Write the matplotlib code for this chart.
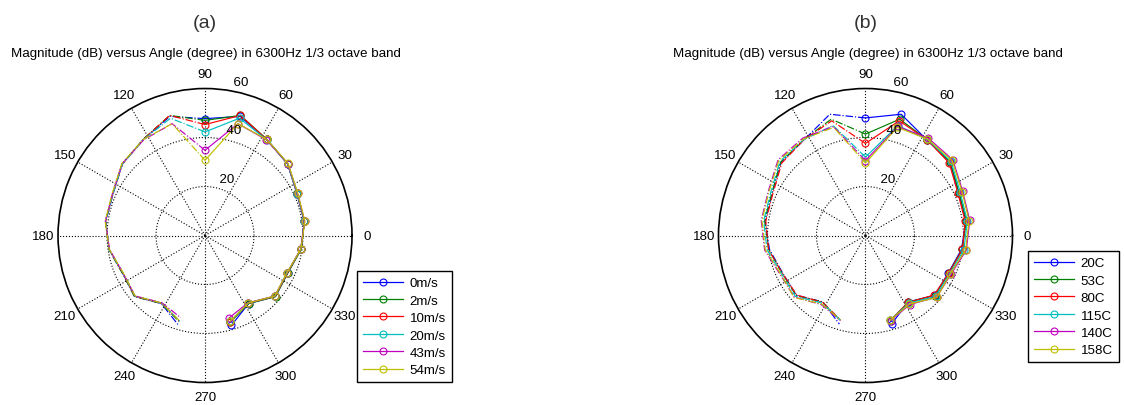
import numpy as np
import matplotlib
matplotlib.use('Agg')
import matplotlib.pyplot as plt
from matplotlib.lines import Line2D

plt.rcParams['font.family'] = ['Liberation Sans', 'DejaVu Sans']

# measurement angles (deg), right half; left half is drawn mirrored
angles = [90, 73.6, 57.3, 40.9, 24.5, 8.2, -8.2, -24.5, -40.9, -57.3, -73.6]

# (a) flow speed
speed_labels = ['0m/s', '2m/s', '10m/s', '20m/s', '43m/s', '54m/s']
mag_0ms = [47.7, 50.7, 46.6, 44.6, 41.2, 40.9, 39.6, 37.0, 38.0, 33.0, 38.2]
mag_2ms = [47.0, 51.1, 46.7, 44.7, 41.4, 41.0, 39.7, 37.1, 38.1, 33.0, 36.8]
mag_10ms = [45.3, 51.1, 46.6, 44.6, 41.3, 41.0, 39.5, 36.9, 37.9, 32.8, 36.6]
mag_20ms = [42.3, 49.9, 46.5, 44.6, 41.3, 41.0, 39.5, 36.8, 37.8, 32.7, 36.5]
mag_43ms = [34.8, 47.6, 46.4, 44.8, 41.5, 41.1, 39.4, 36.8, 37.7, 32.6, 35.0]
mag_54ms = [30.7, 47.6, 46.6, 44.9, 41.6, 41.2, 39.5, 36.7, 37.7, 32.7, 36.4]

# (b) temperature
temp_labels = ['20C', '53C', '80C', '115C', '140C', '158C']
mag_20c = [48.0, 51.6, 46.4, 45.6, 41.8, 41.4, 39.6, 37.1, 37.3, 32.2, 37.7]
mag_53c = [41.4, 49.5, 46.5, 45.8, 42.0, 41.6, 39.9, 37.3, 37.4, 32.3, 36.2]
mag_80c = [37.6, 48.8, 46.5, 45.2, 41.5, 41.1, 40.0, 37.3, 37.1, 32.4, 36.0]
mag_115c = [32.0, 46.8, 46.6, 46.2, 42.5, 42.0, 40.6, 37.7, 37.9, 32.8, 36.0]
mag_140c = [30.6, 46.4, 47.3, 47.2, 43.6, 43.0, 41.6, 38.3, 38.4, 33.5, 36.2]
mag_158c = [29.6, 46.0, 46.8, 46.8, 43.3, 42.7, 41.3, 38.0, 38.6, 33.2, 36.0]

colors = ['#0000ff', '#008000', '#ff0000', '#00bfbf', '#bf00bf', '#bfbf00']
title = 'Magnitude (dB) versus Angle (degree) in 6300Hz 1/3 octave band'


def polar_panel(ax, series, labels, legend_pos):
    rmax = 60
    th = np.deg2rad(angles)
    th_mirror = np.deg2rad([180 - a for a in angles])
    for vals, c, lab in zip(series, colors, labels):
        ax.plot(th_mirror, vals, '-.', color=c, lw=0.85)
        ax.plot(th, vals, '-o', color=c, lw=0.85, ms=5, mfc='none', mew=0.8, label=lab)

    ax.set_ylim(0, rmax)
    ax.set_xticks(np.deg2rad(np.arange(0, 360, 30)))
    ax.set_yticks([20, 40])
    ax.set_xticklabels([])
    ax.set_yticklabels([])
    ax.grid(True, color='k', linestyle=':', lw=0.8)
    ax.spines['polar'].set_linewidth(1.2)

    # spoke labels, like MATLAB polar()
    for deg in range(0, 360, 30):
        ax.text(np.deg2rad(deg), 1.1 * rmax, str(deg), ha='center', va='center', fontsize=9.6)
    for r in [20, 40, 60]:
        ax.text(np.deg2rad(82), r + 1, '  ' + str(r), ha='left', va='bottom', fontsize=9.6)

    handles = [Line2D([], [], color=c, lw=0.9, marker='o', ms=5, mfc='none', mew=0.8)
               for c in colors]
    leg = ax.figure.legend(handles, labels, loc='upper left', bbox_to_anchor=legend_pos,
                           fontsize=9.6, frameon=True, fancybox=False, framealpha=1,
                           edgecolor='k', handlelength=3.0, labelspacing=0.38,
                           borderpad=0.45, handletextpad=0.5, borderaxespad=0)
    leg.get_frame().set_linewidth(1.0)


fig = plt.figure(figsize=(11.24, 4.06), dpi=100)

ax1 = fig.add_axes([0.0516, 0.0554, 0.2616, 0.7241], projection='polar')
polar_panel(ax1, [mag_0ms, mag_2ms, mag_10ms, mag_20ms, mag_43ms, mag_54ms],
            speed_labels, (357 / 1124, 1 - 272 / 406))

ax2 = fig.add_axes([0.6392, 0.0554, 0.2616, 0.7241], projection='polar')
polar_panel(ax2, [mag_20c, mag_53c, mag_80c, mag_115c, mag_140c, mag_158c],
            temp_labels, (1028 / 1124, 1 - 252 / 406))

fig.text(205 / 1124, 1 - 24 / 406, '(a)', ha='center', va='center', fontsize=14, color='#333333')
fig.text(866 / 1124, 1 - 24 / 406, '(b)', ha='center', va='center', fontsize=14, color='#333333')
fig.text(206 / 1124, 1 - 54 / 406, title, ha='center', va='center', fontsize=9.6)
fig.text(868 / 1124, 1 - 54 / 406, title, ha='center', va='center', fontsize=9.6)

fig.savefig('out.png', dpi=100)
